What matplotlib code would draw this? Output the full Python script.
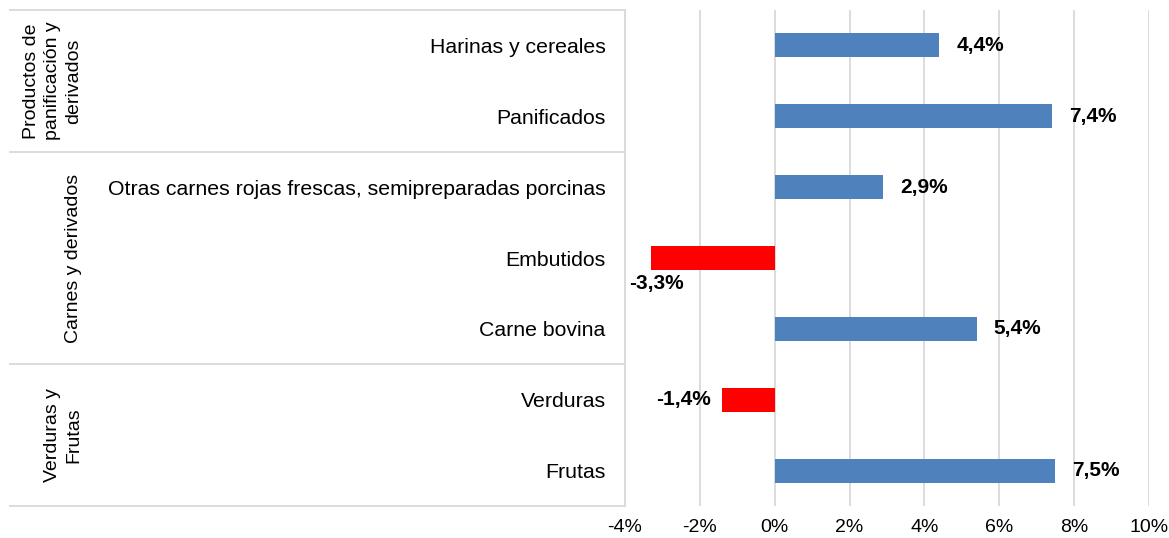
import matplotlib
matplotlib.use("Agg")
import matplotlib.pyplot as plt
from matplotlib.lines import Line2D

plt.rcParams['font.family'] = ['Liberation Sans', 'DejaVu Sans']

categories = ["Harinas y cereales", "Panificados",
              "Otras carnes rojas frescas, semipreparadas porcinas",
              "Embutidos", "Carne bovina", "Verduras", "Frutas"]
values = [4.4, 7.4, 2.9, -3.3, 5.4, -1.4, 7.5]
groups = ["Productos de\npanificación y\nderivados", "Carnes y derivados", "Verduras y\nFrutas"]
group_sizes = [2, 3, 2]
xticks = [-4, -2, 0, 2, 4, 6, 8, 10]

W, H = 1169, 538
fig = plt.figure(figsize=(W / 100, H / 100), dpi=100)
ax_left, ax_right, ax_top, ax_bottom = 625, 1149, 10, 506
ax = fig.add_axes([ax_left / W, 1 - ax_bottom / H, (ax_right - ax_left) / W, (ax_bottom - ax_top) / H])

n = len(categories)
ypos = list(range(n))
colors = ["#4F81BD" if v >= 0 else "#FF0000" for v in values]
ax.barh(ypos, values, height=0.34, color=colors, zorder=3)

ax.set_xlim(-4, 10)
ax.set_ylim(n - 0.5, -0.5)
ax.set_xticks(xticks)
ax.set_xticklabels([f"{t}%" for t in xticks], fontsize=14)
ax.set_yticks(ypos)
ax.set_yticklabels(categories, fontsize=15.3)
ax.tick_params(axis='both', length=0)
ax.tick_params(axis='y', pad=14)
ax.tick_params(axis='x', pad=9)
ax.grid(axis='x', color='#D9D9D9', linewidth=1.3, zorder=0)
for s in ['top', 'right', 'bottom']:
    ax.spines[s].set_visible(False)
ax.spines['left'].set_color('#D9D9D9')
ax.spines['left'].set_linewidth(1.3)

# data labels
for y, v in zip(ypos, values):
    txt = f"{v:.1f}%".replace(".", ",")
    if v >= 0:
        ax.annotate(txt, (v, y), xytext=(17, 0), textcoords='offset pixels',
                    ha='left', va='center', fontsize=15, fontweight='bold')
    elif v < -2:
        ax.annotate(txt, (v, y), xytext=(5, -25), textcoords='offset pixels',
                    ha='center', va='center', fontsize=15, fontweight='bold')
    else:
        ax.annotate(txt, (v, y), xytext=(-11, 0), textcoords='offset pixels',
                    ha='right', va='center', fontsize=15, fontweight='bold')

# group separators and labels
def fy(ydata):
    disp = ax.transData.transform((0, ydata))
    return fig.transFigure.inverted().transform(disp)[1]

x0 = 10 / W
x1 = ax_left / W
bounds = [-0.5]
acc = 0
for g in group_sizes:
    acc += g
    bounds.append(acc - 0.5)
for b in bounds:
    yy = fy(b)
    fig.add_artist(Line2D([x0, x1], [yy, yy], color='#D9D9D9', linewidth=1.3))

for i, g in enumerate(groups):
    yc = (fy(bounds[i]) + fy(bounds[i + 1])) / 2
    fig.text(82 / W, yc, g, rotation=90, ha='right', va='center',
             multialignment='center', fontsize=14, linespacing=1.3)

fig.savefig("out.png", dpi=100)
